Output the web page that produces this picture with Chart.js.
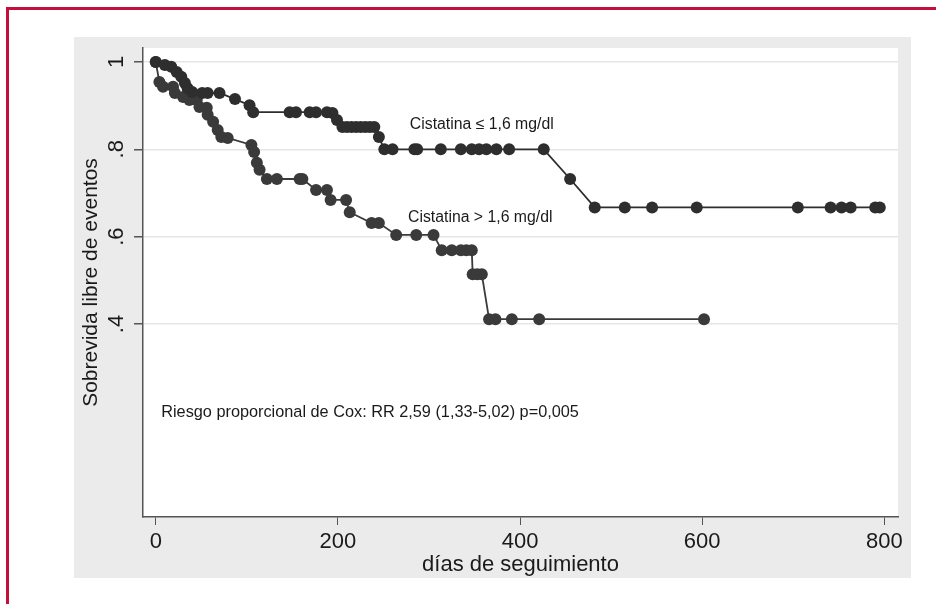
<!DOCTYPE html>
<html>
<head>
<meta charset="utf-8">
<script src="https://cdn.jsdelivr.net/npm/chart.js@4.4.1/dist/chart.umd.min.js"></script>
<style>
  body { margin: 0; background: #fff; width: 936px; height: 604px; overflow: hidden; position: relative; }
  #frame { position: absolute; left: 6px; top: 7px; width: 960px; height: 640px;
           border-top: 3px solid #c2103b; border-left: 3px solid #c2103b; }
  #box { position: absolute; left: 74px; top: 37px; width: 837px; height: 541px; background: #ebebeb; }
</style>
</head>
<body>
<div id="frame"></div>
<div id="box"><canvas id="km"></canvas></div>
<script>
// curva Cistatina <= 1,6 mg/dl
const lowDays = [0, 10, 17, 23, 28, 32, 35, 40, 51, 57, 70, 87, 103, 107, 147, 154, 169, 176, 188, 194,
  199, 205, 210, 215, 220, 225, 230, 235, 240, 245, 251, 260, 284, 287, 313, 335, 347, 355, 363, 374,
  388, 426, 455, 482, 515, 545, 594, 705, 741, 753, 763, 790, 795]
const lowSurv = [1, .993, .989, .977, .966, .952, .94, .931, .929, .929, .929, .915, .901, .885, .885, .885, .885, .885, .885, .883,
  .867, .851, .851, .851, .851, .851, .851, .851, .851, .828, .8, .8, .8, .8, .8, .8, .8, .8, .8, .8,
  .8, .8, .732, .667, .667, .667, .667, .667, .667, .667, .667, .667, .667]
// curva Cistatina > 1,6 mg/dl
const highDays = [0, 4, 8, 19, 21, 30, 37, 45, 48, 56, 57, 63, 68, 72, 79, 105, 108, 111, 114, 122,
  133, 158, 161, 176, 188, 192, 209, 213, 237, 245, 264, 286, 305, 314, 325, 335, 341, 347, 348, 353,
  358, 366, 373, 391, 421, 602]
const highSurv = [1, .954, .943, .943, .929, .92, .913, .913, .897, .895, .879, .863, .844, .828, .826, .81, .794, .769, .753, .732,
  .732, .732, .732, .707, .707, .684, .684, .656, .631, .631, .604, .604, .604, .569, .569, .569, .569, .569, .514, .514,
  .514, .411, .411, .411, .411, .411]

const xTicks = [0, 200, 400, 600, 800]
const yTicks = [.4, .6, .8, 1]
const yTickLabels = ['.4', '.6', '.8', '1']

// testo dentro il grafico: [testo, giorni, sopravvivenza, size]
const notes = [
  ['Cistatina ≤ 1,6 mg/dl', 279, .857, 15.8],
  ['Cistatina > 1,6 mg/dl', 277, .644, 15.8],
  ['Riesgo proporcional de Cox: RR 2,59 (1,33-5,02) p=0,005', 6, .197, 16.3]
]

const FONT = "'Liberation Sans', Arial, sans-serif"

const toPts = (xs, ys) => xs.map((x, i) => ({x: x, y: ys[i]}))

const extras = {
  id: 'extras',
  beforeDraw(chart) {
    const {ctx, chartArea: a} = chart
    ctx.save()
    ctx.fillStyle = '#fff'
    ctx.fillRect(a.left, a.top, a.right - a.left, a.bottom - a.top)
    ctx.restore()
  },
  afterDraw(chart) {
    const ctx = chart.ctx
    const xs = chart.scales.x, ys = chart.scales.y
    ctx.save()
    ctx.fillStyle = '#1a1a1a'
    // etichette asse y ruotate
    ctx.font = '22px ' + FONT
    ctx.textAlign = 'center'
    ctx.textBaseline = 'middle'
    yTicks.forEach((v, i) => {
      ctx.save()
      ctx.translate(ys.right - 26, ys.getPixelForValue(v))
      ctx.rotate(-Math.PI / 2)
      ctx.fillText(yTickLabels[i], 0, 0)
      ctx.restore()
    })
    ctx.textAlign = 'left'
    notes.forEach(n => {
      ctx.font = n[3] + 'px ' + FONT
      ctx.fillText(n[0], xs.getPixelForValue(n[1]), ys.getPixelForValue(n[2]))
    })
    ctx.restore()
  }
}

const dsStyle = (col) => ({
  showLine: true,
  borderColor: col,
  borderWidth: 1.8,
  backgroundColor: col,
  pointBackgroundColor: col,
  pointBorderWidth: 0,
  pointRadius: 6,
  tension: 0
})

new Chart(document.getElementById('km'), {
  type: 'scatter',
  data: {
    datasets: [
      Object.assign({label: 'Cistatina <= 1,6', data: toPts(lowDays, lowSurv)}, dsStyle('#2e2e2e')),
      Object.assign({label: 'Cistatina > 1,6', data: toPts(highDays, highSurv)}, dsStyle('#3a3a3a'))
    ]
  },
  options: {
    responsive: true,
    maintainAspectRatio: false,
    animation: false,
    layout: { padding: {top: 11, right: 13, left: 0, bottom: 0} },
    plugins: { legend: {display: false}, tooltip: {enabled: false} },
    scales: {
      x: {
        type: 'linear',
        min: -14, max: 815,
        afterBuildTicks: s => { s.ticks = xTicks.map(v => ({value: v})) },
        afterFit: s => { s.height = 61 },
        grid: { drawOnChartArea: false, drawTicks: true, tickLength: 8, tickColor: '#555', lineWidth: 1 },
        border: { color: '#555', width: 1.5 },
        ticks: { color: '#1a1a1a', padding: 4, font: {family: FONT, size: 22} },
        title: { display: true, text: 'días de seguimiento', color: '#1a1a1a', padding: {top: -4, bottom: 0},
                 font: {family: FONT, size: 22} }
      },
      y: {
        min: -0.042, max: 1.032,
        afterBuildTicks: s => { s.ticks = yTicks.map(v => ({value: v})) },
        afterFit: s => { s.width = 69 },
        grid: { color: '#e6e6e6', lineWidth: 1.5, tickLength: 9, tickColor: '#555' },
        border: { color: '#555', width: 1.5 },
        ticks: { display: false },
        title: { display: true, text: 'Sobrevida libre de eventos', color: '#1a1a1a', padding: {top: 5, bottom: 0},
                 font: {family: FONT, size: 21} }
      }
    }
  },
  plugins: [extras]
})
</script>
</body>
</html>
